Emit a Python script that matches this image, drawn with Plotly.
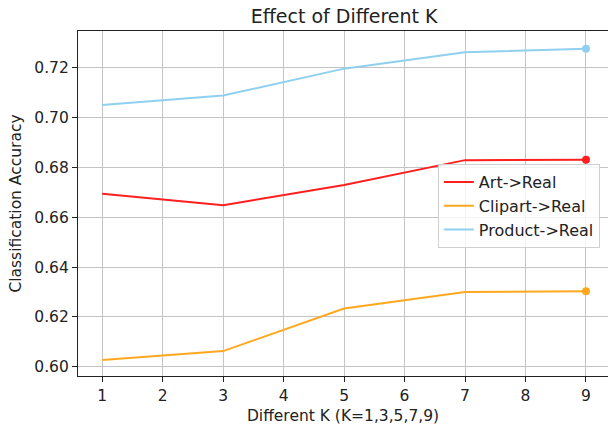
import plotly.graph_objects as go

k_values = [1, 3, 5, 7, 9]
art_real = [0.6694, 0.6648, 0.6729, 0.6829, 0.6831]
clipart_real = [0.6027, 0.6063, 0.6234, 0.6300, 0.6303]
product_real = [0.7050, 0.7088, 0.7196, 0.7262, 0.7276]
x_ticks = [1, 2, 3, 4, 5, 6, 7, 8, 9]
y_ticks = [0.60, 0.62, 0.64, 0.66, 0.68, 0.70, 0.72]

series = [
    ("Art->Real", art_real, "#ff1f1f"),
    ("Clipart->Real", clipart_real, "#ffa81f"),
    ("Product->Real", product_real, "#8fd0ef"),
]

font = "DejaVu Sans"
fig = go.Figure()
for name, ys, color in series:
    fig.add_trace(go.Scatter(x=k_values, y=ys, mode="lines", name=name,
                             legendgroup=name,
                             line=dict(color=color, width=2)))
for name, ys, color in series:
    fig.add_trace(go.Scatter(x=[k_values[-1]], y=[ys[-1]], mode="markers",
                             legendgroup=name, showlegend=False,
                             marker=dict(color=color, size=8)))

fig.update_layout(
    width=608, height=433,
    margin=dict(l=78, r=0, t=31, b=57, autoexpand=False),
    paper_bgcolor="white", plot_bgcolor="white",
    font=dict(family=font, size=15.5, color="#222"),
    title=dict(text="Effect of Different K", x=0.566, xanchor="center",
               y=1 - 16 / 433, yanchor="middle", font=dict(size=19, color="#222")),
    xaxis=dict(range=[0.6, 9.364], tickvals=x_ticks, ticks="outside", ticklen=5,
               tickcolor="#222", showline=True, linecolor="#222", linewidth=1.2,
               mirror=True, showgrid=True, gridcolor="#c4c4c4", gridwidth=1,
               zeroline=False, tickfont=dict(size=15.5), automargin=False,
               title=dict(text="Different K (K=1,3,5,7,9)", font=dict(size=15.5), standoff=6)),
    yaxis=dict(range=[0.5963, 0.7347], tickvals=y_ticks, tickformat=".2f",
               ticks="outside", ticklen=5, tickcolor="#222", showline=True,
               linecolor="#222", linewidth=1.2, showgrid=True, gridcolor="#c4c4c4",
               gridwidth=1, zeroline=False, tickfont=dict(size=15.5), automargin=False,
               title=dict(text="Classification Accuracy", font=dict(size=15.5), standoff=8)),
    legend=dict(x=0.679, y=0.6145, xanchor="left", yanchor="top",
                traceorder="normal",
                bgcolor="rgba(255,255,255,0.8)", bordercolor="#d0d0d0", borderwidth=1,
                font=dict(size=16, color="#222")),
)

fig.write_html("out.html", config={"displayModeBar": False},
               post_script="document.body.style.margin='0px';")
